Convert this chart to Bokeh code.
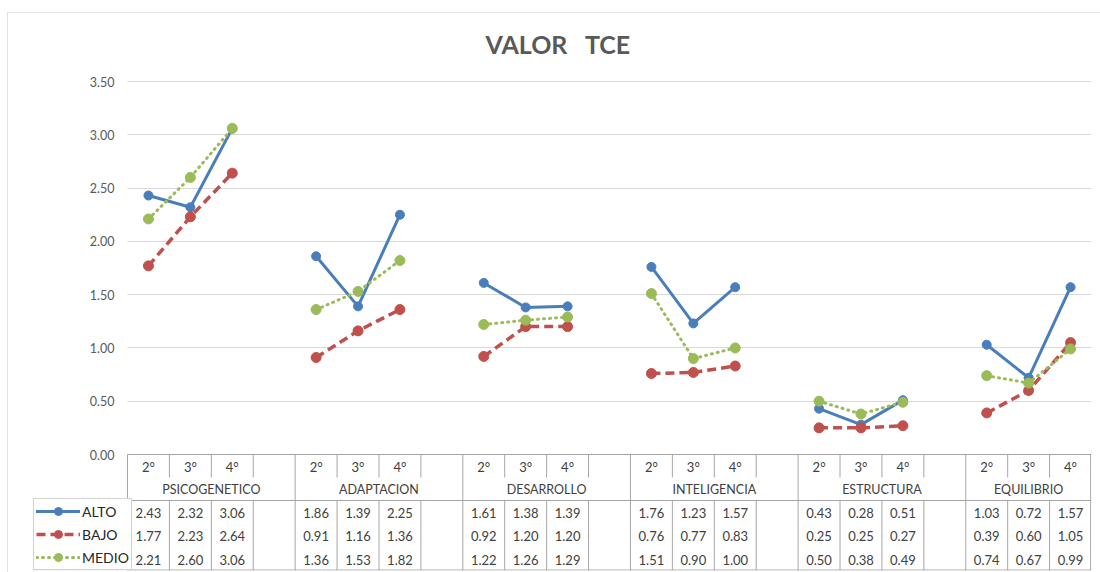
import math
from bokeh.plotting import figure
from bokeh.models import Range1d, FixedTicker, Legend, LegendItem, NumeralTickFormatter, LinearAxis, Grid
from bokeh.core.properties import value
from bokeh.embed import file_html
from bokeh.resources import INLINE

groups = ["PSICOGENETICO", "ADAPTACION", "DESARROLLO", "INTELIGENCIA", "ESTRUCTURA", "EQUILIBRIO"]
grades = ["2°", "3°", "4°"]
alto = [2.43, 2.32, 3.06, 1.86, 1.39, 2.25, 1.61, 1.38, 1.39, 1.76, 1.23, 1.57, 0.43, 0.28, 0.51, 1.03, 0.72, 1.57]
bajo = [1.77, 2.23, 2.64, 0.91, 1.16, 1.36, 0.92, 1.20, 1.20, 0.76, 0.77, 0.83, 0.25, 0.25, 0.27, 0.39, 0.60, 1.05]
medio = [2.21, 2.60, 3.06, 1.36, 1.53, 1.82, 1.22, 1.26, 1.29, 1.51, 0.90, 1.00, 0.50, 0.38, 0.49, 0.74, 0.67, 0.99]
series_names = ["ALTO", "BAJO", "MEDIO"]
y_ticks = [0.0, 0.5, 1.0, 1.5, 2.0, 2.5, 3.0, 3.5]

FONT = value("Lato")
TXT = "#404040"
LINE = "#a6a6a6"

ng = len(groups)
nk = len(grades)
per = nk + 1
nslots = per * ng - 1

# layout geometry (page pixels)
OX, OY = 7, 12                      # figure origin on page
F_LEFT, DATA_LEFT, F_RIGHT = 33, 127, 1091
TOP_TICK, ZERO, F_BOT = 81, 454, 570
F_TOP = 70
W, H = 1100 - OX, 572 - OY
ppu = (ZERO - TOP_TICK) / y_ticks[-1]
sw = (F_RIGHT - DATA_LEFT) / nslots
x_start = -(DATA_LEFT - F_LEFT) / sw

p = figure(width=W, height=H, output_backend="svg", toolbar_location=None,
           margin=(OY, 0, 0, OX),
           x_range=Range1d(x_start, nslots),
           y_range=Range1d(-(F_BOT - ZERO) / ppu, (ZERO - F_TOP) / ppu),
           x_axis_type=None, y_axis_type=None,
           min_border_left=F_LEFT - OX, min_border_right=W - (F_RIGHT - OX),
           min_border_top=F_TOP - OY, min_border_bottom=H - (F_BOT - OY))
p.extra_y_ranges = {"tbl": Range1d(F_BOT, F_TOP)}
p.outline_line_color = None
p.background_fill_color = "white"
p.border_fill_color = "white"
p.styles = {"outline": "2px solid #d9d9d9", "outline-offset": "-2px"}

p.title.text = "VALOR\u00a0\u00a0\u00a0TCE"
p.title.text_font = "Lato"
p.title.text_font_size = "25px"
p.title.text_font_style = "bold"
p.title.text_color = "#595959"
p.title.align = "left"
p.title.offset = 485 - F_LEFT
p.title.standoff = 24

yax = LinearAxis(fixed_location=0)
yax.ticker = FixedTicker(ticks=y_ticks)
yax.formatter = NumeralTickFormatter(format="0.00")
yax.axis_line_color = None
yax.major_tick_line_color = None
yax.minor_tick_line_color = None
yax.major_tick_out = 0
yax.major_tick_in = 0
yax.major_label_standoff = 13
yax.major_label_text_font = "Lato"
yax.major_label_text_font_size = "12.5px"
yax.major_label_text_color = "#595959"
p.add_layout(yax, "left")

grid = Grid(dimension=1, ticker=FixedTicker(ticks=y_ticks[1:]),
            grid_line_color="#d9d9d9", grid_line_width=1)
p.add_layout(grid)
try:
    grid.cross_bounds = (0, nslots)
except Exception:
    p.quad(left=[x_start], right=[0], bottom=[0.01], top=[y_ticks[-1] + 0.5],
           fill_color="white", line_color=None)

slot_of = []
for g in range(ng):
    for k in range(nk):
        slot_of.append(g * per + k)
centers = [s + 0.5 for s in range(nslots)]


def full(vals):
    ys = [math.nan] * nslots
    for v, s in zip(vals, slot_of):
        ys[s] = v
    return ys


styles = [
    dict(color="#4a7ebb", dash="solid", width=3, size=9, cap="round"),
    dict(color="#c0504d", dash="9 5", width=3.5, size=10, cap="butt"),
    dict(color="#9bbb59", dash="1 5", width=3, size=10, cap="round"),
]
items = []
for name, vals, st in zip(series_names, [alto, bajo, medio], styles):
    ys = full(vals)
    ln = p.line(centers, ys, line_color=st["color"], line_width=st["width"],
                line_dash=st["dash"], line_cap=st["cap"], line_join="round")
    sc = p.scatter(centers, ys, marker="circle", size=st["size"],
                   fill_color=st["color"], line_color=st["color"])
    items.append(LegendItem(label=name, renderers=[ln, sc]))

# ---- data table ----
H1, H2, R0 = 477, 500, F_BOT - 0.5
x0s, y0s, x1s, y1s = [], [], [], []


def seg(a, b, c, d):
    x0s.append(a); y0s.append(b); x1s.append(c); y1s.append(d)


seg(0, ZERO, nslots, ZERO)
seg(0, H2, nslots, H2)
seg(0, R0, nslots, R0)
seg(0, ZERO, 0, F_BOT)
seg(nslots - 0.02, ZERO, nslots - 0.02, F_BOT)
for g in range(1, ng):
    seg(g * per, ZERO, g * per, F_BOT)
for s in range(1, nslots):
    if s % per:
        seg(s, ZERO, s, H1)
        seg(s, H2, s, F_BOT)
p.segment(x0s, y0s, x1s, y1s, y_range_name="tbl", line_color=LINE, line_width=1)

hx, ht = [], []
for s in slot_of:
    hx.append(s + 0.5)
    ht.append(grades[s % per])
p.text(hx, [466] * len(hx), text=ht, y_range_name="tbl", text_align="center",
       text_baseline="middle", text_font=FONT, text_font_size="13px", text_color=TXT)

gx = [(g * per + min(g * per + per, nslots)) / 2 for g in range(ng)]
p.text(gx, [489] * ng, text=groups, y_range_name="tbl", text_align="center",
       text_baseline="middle", text_font=FONT, text_font_size="12.5px", text_color=TXT)

for r, vals in enumerate([alto, bajo, medio]):
    p.text(hx, [512 + 23.5 * r] * len(hx), text=[f"{v:.2f}" for v in vals], y_range_name="tbl",
           text_align="center", text_baseline="middle", text_font=FONT,
           text_font_size="13px", text_color=TXT)

legend = Legend(items=items, location=(0, 0), orientation="vertical",
                border_line_color=LINE, border_line_width=1,
                background_fill_color="white", background_fill_alpha=1,
                label_text_font="Lato", label_text_font_size="14px", label_text_color="#262626",
                glyph_width=44, glyph_height=20, label_height=20, spacing=3,
                padding=2, margin=0, label_standoff=2)
p.add_layout(legend)

open("out.html", "w").write(file_html(p, INLINE))
